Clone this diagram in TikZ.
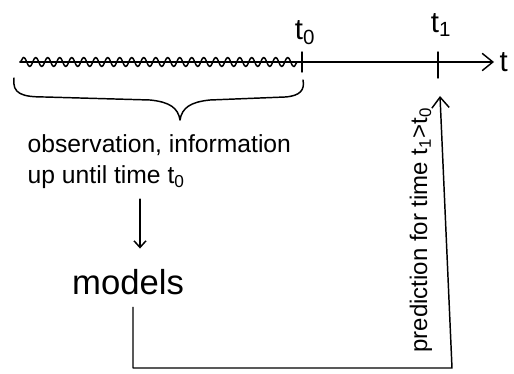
\documentclass[tikz,border=0pt]{standalone}
\usepackage{fontspec}
\setmainfont{Liberation Sans}
\usetikzlibrary{arrows.meta,decorations.pathmorphing}
\begin{document}
\begin{tikzpicture}[x=0.75pt,y=-0.75pt, line width=1.1pt, line cap=round, line join=round,
  txt/.style={font=\fontsize{18.5}{23}\selectfont, inner sep=0pt},
  rottxt/.style={font=\fontsize{18}{21}\selectfont, inner sep=0pt},
  lbl/.style={font=\fontsize{22}{26}\selectfont, inner sep=0pt},
  bigtxt/.style={font=\fontsize{26}{30}\selectfont, inner sep=0pt},
  tip/.style={-{Straight Barb[length=8pt,width=13pt,line width=1.1pt]}},
  tipsmall/.style={-{Straight Barb[length=5pt,width=9pt,line width=1.1pt]}}]
\useasboundingbox (0,0) rectangle (514,374);
% axis
\coordinate (axstart) at (20,62);
\coordinate (axend) at (494,62);
\node[lbl, anchor=west] (tlab) at (499,62) {t};
\draw[tip] (axstart) -- (axend);
\draw[decorate, decoration={snake, amplitude=3.5pt, segment length=9pt}] (20,62) -- (302,62);
% ticks
\coordinate (t0top) at (302,52);
\coordinate (t0bot) at (302,72);
\coordinate (t1top) at (438,52);
\coordinate (t1bot) at (438,78);
\draw (t0top) -- (t0bot);
\draw (t1top) -- (t1bot);
\node[lbl] (t0) at (305,33) {t\textsubscript{0}};
\node[lbl] (t1) at (441,25) {t\textsubscript{1}};
% brace
\draw (14,78) .. controls (12,94) and (22,97) .. (45,97) -- (150,100)
  .. controls (170,102) and (178,108) .. (180,120)
  .. controls (182,108) and (190,102) .. (210,100) -- (285,97)
  .. controls (300,96) and (305,90) .. (303,80);
% observation text
\node[txt, anchor=north west, align=left] (obs) at (27,134) {observation, information\\up until time t\textsubscript{0}};
% models
\node[bigtxt] (models) at (128,282) {models};
\draw[tipsmall] ([shift={(12,10)}]obs.south -| models.north) -- ([shift={(12,-20)}]models.north);
% return path
\coordinate (corner1) at (133,368);
\coordinate (corner2) at (452,368);
\coordinate (predend) at (440,96);
\draw[tip] ([shift={(5,12)}]models.south) -- (corner1) -- (corner2) -- (predend);
\node[rottxt, rotate=90] (pred) at (421,230) {prediction for time t\textsubscript{1}>t\textsubscript{0}};
\end{tikzpicture}
\end{document}
